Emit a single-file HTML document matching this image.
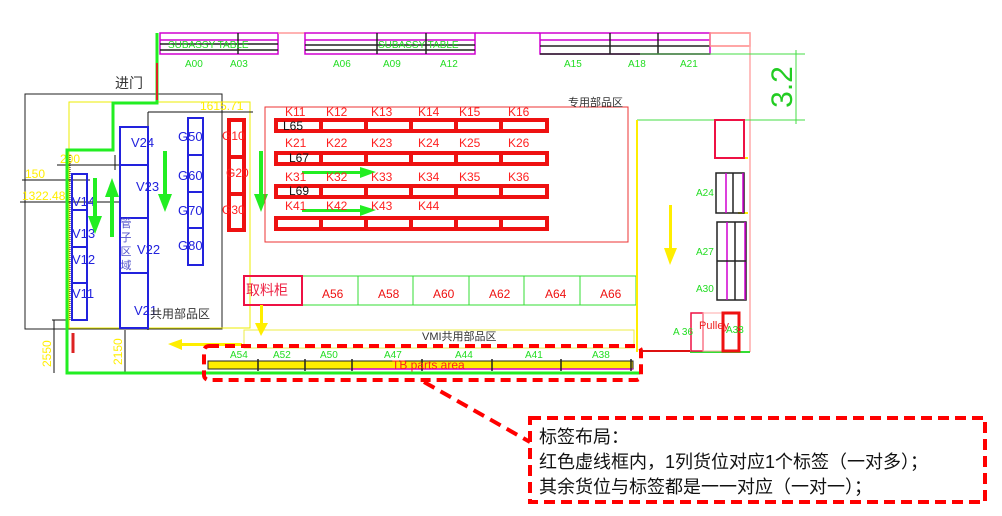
<!DOCTYPE html>
<html><head><meta charset="utf-8"><style>
html,body{margin:0;padding:0;background:#fff;}
svg{display:block;}
text{font-family:"Liberation Sans","Noto Sans CJK SC",sans-serif;}
.g{fill:#22dd22;font-size:10px;}
.r{fill:#ff2020;font-size:12px;}
.b{fill:#2222dd;font-size:13px;}
.k{fill:#111;font-size:12px;}
.y{fill:#ffee00;font-size:12px;}
#wrap{position:relative;width:1002px;height:516px;}
#vt{position:absolute;left:119px;top:217px;width:14px;font-family:"Liberation Sans","Noto Sans CJK SC",sans-serif;font-size:11px;line-height:14px;color:#5555cc;text-align:center;}
</style></head><body>
<div id="wrap">
<svg width="1002" height="516" viewBox="0 0 1002 516" xmlns="http://www.w3.org/2000/svg">
<g stroke-width="1.5" fill="none">
<rect x="160" y="33" width="118" height="21" stroke="#d000d0"/>
<line x1="160" y1="44" x2="278" y2="44" stroke="#222"/>
<line x1="160" y1="40" x2="278" y2="40" stroke="#d000d0"/>
<line x1="160" y1="50" x2="278" y2="50" stroke="#222"/>
<line x1="238" y1="33" x2="238" y2="54" stroke="#222"/>
<line x1="278" y1="33" x2="305" y2="33" stroke="#ff9999"/>
<rect x="305" y="33" width="170" height="21" stroke="#d000d0"/>
<line x1="305" y1="40" x2="475" y2="40" stroke="#d000d0"/>
<line x1="305" y1="45" x2="475" y2="45" stroke="#222"/>
<line x1="305" y1="50" x2="475" y2="50" stroke="#222"/>
<line x1="377" y1="33" x2="377" y2="54" stroke="#222"/>
<line x1="426" y1="33" x2="426" y2="54" stroke="#222"/>
<line x1="475" y1="33" x2="540" y2="33" stroke="#d000d0"/>
<rect x="540" y="33" width="170" height="21" stroke="#d000d0"/>
<line x1="540" y1="40" x2="710" y2="40" stroke="#d000d0"/>
<line x1="540" y1="46" x2="710" y2="46" stroke="#222"/>
<line x1="540" y1="54" x2="710" y2="54" stroke="#222"/>
<line x1="610" y1="33" x2="610" y2="54" stroke="#222"/>
<line x1="658" y1="33" x2="658" y2="54" stroke="#222"/>
<rect x="710" y="33" width="40" height="13" stroke="#ff8888"/>
<line x1="750" y1="33" x2="750" y2="352" stroke="#ffaaaa"/>
</g>
<text x="168" y="48" class="g">SUBASSY  TABLE</text>
<text x="378" y="48" class="g">SUBASSY  TABLE</text>
<text x="185" y="67" class="g">A00</text><text x="230" y="67" class="g">A03</text>
<text x="333" y="67" class="g">A06</text><text x="383" y="67" class="g">A09</text>
<text x="440" y="67" class="g">A12</text><text x="564" y="67" class="g">A15</text>
<text x="628" y="67" class="g">A18</text><text x="680" y="67" class="g">A21</text>
<g stroke="#44dd44" stroke-width="1" fill="none">
<line x1="640" y1="54" x2="805" y2="54"/><line x1="637" y1="120" x2="805" y2="120"/>
<line x1="796" y1="50" x2="796" y2="124"/>
</g>
<text transform="translate(792,87) rotate(-90)" text-anchor="middle" fill="#22cc22" font-size="30">3.2</text>
<rect x="25" y="94" width="197" height="235" fill="none" stroke="#222" stroke-width="1"/>
<rect x="69" y="102" width="181" height="226" fill="none" stroke="#eeee00" stroke-width="1"/>
<text x="115" y="88" fill="#333" font-size="14">进门</text>
<text x="200" y="110" class="y">1615.71</text>
<g stroke="#111" stroke-width="1">
<line x1="148" y1="112" x2="253" y2="112"/><line x1="148" y1="112" x2="148" y2="330"/>
<line x1="57" y1="165" x2="138" y2="165"/><line x1="115" y1="155" x2="115" y2="170"/>
<line x1="22" y1="180" x2="90" y2="180"/><line x1="20" y1="202" x2="120" y2="202"/>
<line x1="54" y1="320" x2="54" y2="373"/><line x1="52" y1="320" x2="68" y2="320"/>
<line x1="125" y1="330" x2="125" y2="373"/>
</g>
<text x="60" y="163" class="y">200</text>
<text x="25" y="178" class="y">150</text>
<text x="22" y="200" class="y">1322.48</text>
<text transform="translate(51,367) rotate(-90)" class="y">2550</text>
<text transform="translate(122,365) rotate(-90)" class="y">2150</text>
<polyline points="157,33 157,103 113,103 113,150 67,150 67,373 205,373" fill="none" stroke="#22ee22" stroke-width="3"/>
<line x1="157" y1="63" x2="157" y2="100" stroke="#dd2222" stroke-width="2"/>
<line x1="73" y1="333" x2="73" y2="353" stroke="#dd2222" stroke-width="3"/>
<line x1="70" y1="155" x2="70" y2="320" stroke="#222" stroke-width="1" stroke-dasharray="1,1"/>
<g fill="none" stroke="#2222dd" stroke-width="2">
<rect x="120" y="127" width="28" height="201"/>
<line x1="120" y1="165" x2="148" y2="165"/><line x1="120" y1="218" x2="148" y2="218"/><line x1="120" y1="273" x2="148" y2="273"/>
<rect x="72" y="174" width="15" height="146"/>
<line x1="72" y1="210" x2="87" y2="210"/><line x1="72" y1="247" x2="87" y2="247"/><line x1="72" y1="283" x2="87" y2="283"/>
<rect x="188" y="118" width="15" height="147"/>
<line x1="188" y1="155" x2="203" y2="155"/><line x1="188" y1="192" x2="203" y2="192"/><line x1="188" y1="228" x2="203" y2="228"/>
</g>
<text x="131" y="147" class="b">V24</text><text x="136" y="191" class="b">V23</text>
<text x="137" y="254" class="b">V22</text><text x="134" y="315" class="b">V21</text>
<text x="72" y="206" class="b">V14</text><text x="72" y="238" class="b">V13</text>
<text x="72" y="264" class="b">V12</text><text x="72" y="298" class="b">V11</text>
<text x="178" y="141" class="b">G50</text><text x="178" y="180" class="b">G60</text>
<text x="178" y="215" class="b">G70</text><text x="178" y="250" class="b">G80</text>
<text x="150" y="318" fill="#333" font-size="12">共用部品区</text>
<g fill="none" stroke="#ee1111" stroke-width="4">
<rect x="229" y="120" width="15" height="110"/>
<line x1="229" y1="157" x2="244" y2="157"/><line x1="229" y1="194" x2="244" y2="194"/>
</g>
<text x="222" y="140" class="r">G10</text><text x="226" y="177" class="r">G20</text><text x="222" y="214" class="r">G30</text>
<g fill="#22ee22">
<rect x="93" y="178" width="4" height="40"/><polygon points="88,216 102,216 95,234"/>
<rect x="110" y="195" width="4" height="42"/><polygon points="105,197 119,197 112,178"/>
<rect x="163" y="151" width="4" height="45"/><polygon points="158,194 172,194 165,212"/>
<rect x="259" y="151" width="4" height="45"/><polygon points="254,194 268,194 261,212"/>
<rect x="302" y="171" width="60" height="3"/><polygon points="360,167 360,178 376,172"/>
<rect x="302" y="209" width="60" height="3"/><polygon points="360,205 360,216 376,210"/>
</g>
<rect x="265" y="107" width="363" height="135" fill="none" stroke="#ee3333" stroke-width="1"/>
<text x="568" y="106" fill="#333" font-size="11">专用部品区</text>
<g fill="none" stroke="#ee1111" stroke-width="4">
<rect x="276" y="120" width="271" height="11"/><rect x="276" y="153" width="271" height="11"/>
<rect x="276" y="186" width="271" height="11"/><rect x="276" y="218" width="271" height="11"/>
<path d="M321 118v15M366 118v15M411 118v15M456 118v15M501 118v15M321 151v15M366 151v15M411 151v15M456 151v15M501 151v15M321 184v15M366 184v15M411 184v15M456 184v15M501 184v15M321 216v15M366 216v15M411 216v15M456 216v15M501 216v15"/>
</g>
<g>
<text x="285" y="116" class="r">K11</text><text x="326" y="116" class="r">K12</text><text x="371" y="116" class="r">K13</text><text x="418" y="116" class="r">K14</text><text x="459" y="116" class="r">K15</text><text x="508" y="116" class="r">K16</text>
<text x="285" y="147" class="r">K21</text><text x="326" y="147" class="r">K22</text><text x="371" y="147" class="r">K23</text><text x="418" y="147" class="r">K24</text><text x="459" y="147" class="r">K25</text><text x="508" y="147" class="r">K26</text>
<text x="285" y="181" class="r">K31</text><text x="326" y="181" class="r">K32</text><text x="371" y="181" class="r">K33</text><text x="418" y="181" class="r">K34</text><text x="459" y="181" class="r">K35</text><text x="508" y="181" class="r">K36</text>
<text x="285" y="210" class="r">K41</text><text x="326" y="210" class="r">K42</text><text x="371" y="210" class="r">K43</text><text x="418" y="210" class="r">K44</text>
</g>
<text x="283" y="130" class="k">L65</text><text x="289" y="162" class="k">L67</text><text x="289" y="195" class="k">L69</text>
<rect x="302" y="276" width="334" height="29" fill="none" stroke="#33dd33" stroke-width="1"/>
<path d="M358 276v29M413 276v29M469 276v29M524 276v29M580 276v29" stroke="#33dd33" stroke-width="1"/>
<rect x="244" y="276" width="58" height="29" fill="none" stroke="#ee1144" stroke-width="2"/>
<text x="246" y="295" fill="#ee2244" font-size="14">取料柜</text>
<g font-size="12" fill="#ee1111"><text x="322" y="298">A56</text><text x="378" y="298">A58</text><text x="433" y="298">A60</text><text x="489" y="298">A62</text><text x="545" y="298">A64</text><text x="600" y="298">A66</text></g>
<rect x="244" y="330" width="390" height="18" fill="none" stroke="#eeee44" stroke-width="1"/>
<line x1="637" y1="120" x2="637" y2="352" stroke="#ffee00" stroke-width="2"/>
<text x="422" y="340" fill="#333" font-size="11">VMI共用部品区</text>
<g fill="#ffee00">
<rect x="260" y="305" width="3" height="20"/><polygon points="255,323 268,323 261,336"/>
<rect x="180" y="343" width="62" height="3"/><polygon points="182,339 182,350 168,344"/>
<rect x="669" y="205" width="3" height="45"/><polygon points="664,248 677,248 670,265"/>
<rect x="738" y="157" width="10" height="2"/><rect x="738" y="212" width="10" height="2"/>
</g>
<rect x="208" y="361" width="425" height="8" fill="#ffee00" stroke="#222" stroke-width="1"/>
<line x1="350" y1="369" x2="633" y2="369" stroke="#d000d0" stroke-width="1.5"/>
<path d="M258 359v12M305 359v12M352 359v12M422 359v12M492 359v12M561 359v12M631 359v12" stroke="#222" stroke-width="1.5"/>
<line x1="200" y1="373" x2="640" y2="373" stroke="#22ee22" stroke-width="3"/>
<g class="g"><text x="230" y="358">A54</text><text x="273" y="358">A52</text><text x="320" y="358">A50</text><text x="384" y="358">A47</text><text x="455" y="358">A44</text><text x="525" y="358">A41</text><text x="592" y="358">A38</text></g>
<text x="392" y="369" fill="#ff2020" font-size="12">TB parts area</text>
<rect x="204" y="346" width="437" height="34" rx="5" fill="none" stroke="#ff0000" stroke-width="4" stroke-dasharray="10,6"/>
<line x1="641" y1="351" x2="690" y2="351" stroke="#dd1111" stroke-width="2"/>
<line x1="690" y1="352" x2="750" y2="352" stroke="#33dd33" stroke-width="2"/>
<rect x="715" y="120" width="29" height="38" fill="none" stroke="#ee1144" stroke-width="2"/>
<g fill="none" stroke-width="1.5">
<rect x="716" y="173" width="28" height="40" stroke="#222"/><line x1="726" y1="173" x2="726" y2="213" stroke="#d000d0"/><line x1="733" y1="173" x2="733" y2="213" stroke="#222"/><line x1="743" y1="173" x2="743" y2="213" stroke="#d000d0"/>
<rect x="717" y="222" width="29" height="78" stroke="#222"/><line x1="727" y1="222" x2="727" y2="300" stroke="#d000d0"/><line x1="735" y1="222" x2="735" y2="300" stroke="#222"/><line x1="745" y1="222" x2="745" y2="300" stroke="#d000d0"/><line x1="717" y1="261" x2="746" y2="261" stroke="#222"/>
<rect x="691" y="313" width="12" height="38" stroke="#ee1144"/>
<rect x="703" y="313" width="20" height="38" stroke="#ffaaaa" stroke-width="1"/>
<rect x="723" y="313" width="16" height="38" stroke="#ee1111" stroke-width="3"/>
</g>
<g class="g"><text x="696" y="196">A24</text><text x="696" y="255">A27</text><text x="696" y="292">A30</text><text x="673" y="335">A  36</text><text x="726" y="333">A33</text></g>
<text x="699" y="329" fill="#ee2222" font-size="11">Pulley</text>
<line x1="424" y1="382" x2="530" y2="442" stroke="#ff0000" stroke-width="4" stroke-dasharray="12,7"/>
<rect x="530" y="418" width="455" height="84" fill="#fff" stroke="#ff0000" stroke-width="4" stroke-dasharray="11,6"/>
<g fill="#111" font-size="18"><text x="539" y="443">标签布局：</text><text x="539" y="468">红色虚线框内，1列货位对应1个标签（一对多）；</text><text x="539" y="493">其余货位与标签都是一一对应（一对一）；</text></g>
</svg>
<div id="vt">管<br>子<br>区<br>域</div>
</div>
</body></html>
